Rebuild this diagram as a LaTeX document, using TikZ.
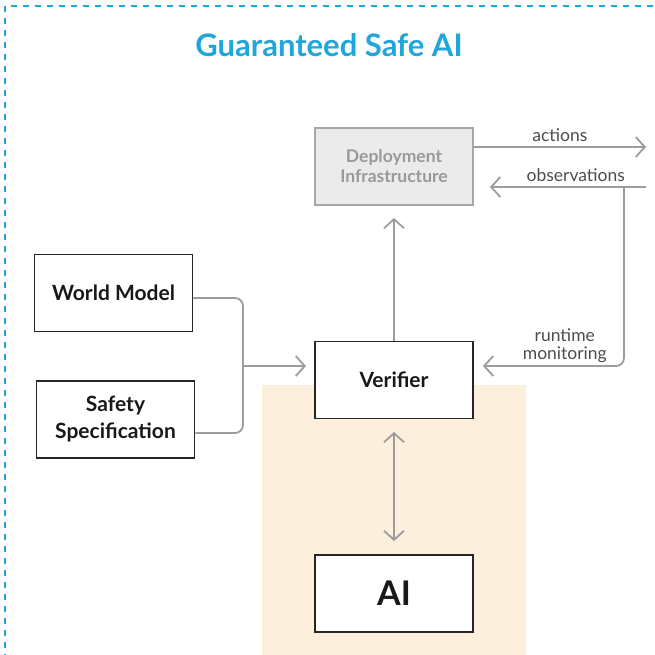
\documentclass[tikz,border=0pt]{standalone}
\usepackage{fontspec}
\setmainfont{Lato}
\usepackage{tikz}
\usetikzlibrary{arrows.meta}
\definecolor{gsaiblue}{HTML}{1FA6DB}
\definecolor{linegray}{HTML}{9C9C9C}
\definecolor{boxgray}{HTML}{EBEBEB}
\definecolor{tan}{HTML}{FCF0DC}
\begin{document}
\begin{tikzpicture}[x=1pt,y=-1pt]
	\tikzstyle{block}=[draw=black!85,line width=1.6pt,fill=white,minimum width=158pt,minimum height=77pt,align=center,font=\fontsize{21}{27}\selectfont\bfseries,text=black!90]
	\tikzstyle{flow}=[draw=linegray,line width=1.8pt,-{Straight Barb[length=9pt,width=20pt]},rounded corners=8pt]
	\tikzstyle{lbl}=[font=\fontsize{17.5}{18}\selectfont,text=black!70,align=center]
	\useasboundingbox (0,0) rectangle (655,655);
	\fill[tan] (262,385) rectangle (526,660);
	\draw[gsaiblue,line width=1.5pt,dash pattern=on 6pt off 6pt] (5,660) -- (5,6) -- (660,6);
	\node[font=\fontsize{31}{33}\selectfont\bfseries,text=gsaiblue](title) at (329,45) {Guaranteed Safe AI};
	\node[block,draw=black!35,fill=boxgray,text=black!40,font=\fontsize{17.5}{20}\selectfont\bfseries](deploy) at (394,166.5) {Deployment\\Infrastructure};
	\node[block](world) at (113.5,293) {World Model};
	\node[block](spec) at (115.5,419.5) {Safety\\Specification};
	\node[block](verifier) at (394,380) {Verifier};
	\node[block,font=\fontsize{34}{36}\selectfont\bfseries](ai) at (394,593.5) {AI};
	\coordinate (actend) at (646,147);
	\coordinate (obsstart) at (646,187);
	\coordinate (merge) at (243,366);
	\draw[flow] (deploy.east |- actend) -- node[lbl,above=1pt]{actions} (actend);
	\draw[flow] (obsstart) -- node[lbl,above=1pt,pos=0.45]{observations} (490,187);
	\draw[flow] (624,187) -- (624,366) -- node[lbl,above=-1pt,pos=0.42,align=center]{runtime\\monitoring} (483,366);
	\draw[flow,-] (world.east |- 0,298) -- (merge |- 0,298) -- (merge);
	\draw[flow,-] (spec.east |- 0,433) -- (merge |- 0,433) -- (merge);
	\draw[flow] (merge) -- (306,366);
	\draw[flow] (verifier.north) -- (394,218);
	\draw[flow,{Straight Barb[length=9pt,width=20pt]}-{Straight Barb[length=9pt,width=20pt]}] (394,432) -- (394,541);
\end{tikzpicture}
\end{document}
